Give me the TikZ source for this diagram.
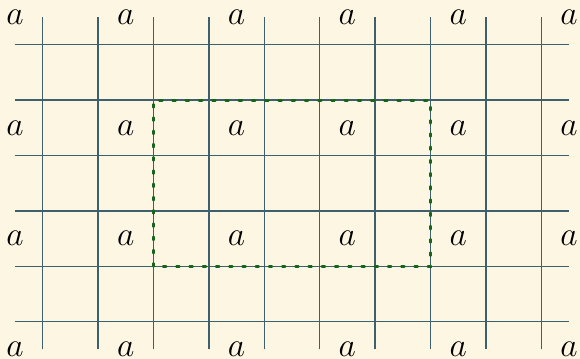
\documentclass[tikz,border=0pt]{standalone}
\begin{document}
\begin{tikzpicture}[x=1cm,y=1cm,
  gridline/.style={draw=gridcol, line width=0.8pt},
  selbox/.style={draw=boxcol, line width=1.6pt, line cap=round, dash pattern=on 1.5pt off 5.3pt},
  letter/.style={inner sep=0pt, font=\LARGE}]
\definecolor{bgcol}{HTML}{FDF6E3}
\definecolor{gridcol}{RGB}{62,96,108}
\definecolor{boxcol}{RGB}{22,100,30}
\fill[bgcol] (-0.271,-0.171) rectangle (10.199,6.307);
\useasboundingbox (-0.271,-0.171) rectangle (10.199,6.307);
\foreach \x in {0.5,1.5,...,9.5} \draw[gridline] (\x,0) -- (\x,6);
\foreach \y in {0.5,1.5,...,5.5} \draw[gridline] (0,\y) -- (10,\y);
\draw[selbox] (2.5,1.5) rectangle (7.5,4.5);
\foreach \i in {0,...,5} \foreach \j in {0,...,3}
  \node[letter] (a\i\j) at (2*\i,2*\j) {$a$};
\end{tikzpicture}
\end{document}
